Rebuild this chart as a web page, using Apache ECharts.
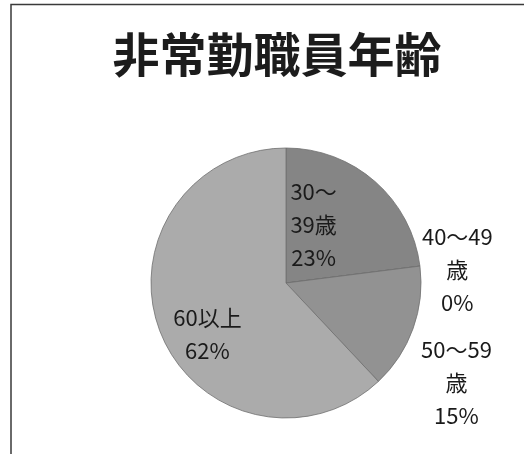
<!DOCTYPE html>
<html>
<head>
<meta charset="utf-8">
<script src="https://cdn.jsdelivr.net/npm/echarts@6/dist/echarts.min.js"></script>
<style>
  html, body { margin: 0; padding: 0; background: #ffffff; }
  #chart { width: 524px; height: 454px; }
</style>
</head>
<body>
<div id="chart"></div>
<script>
// ---- data ----
const titleText = '非常勤職員年齢';
const categories = ['30〜39歳', '40〜49歳', '50〜59歳', '60以上'];
const values = [23, 0, 15, 62];
// label wrapping as shown in the chart
const labelNames = [['30〜', '39歳'], ['40〜49', '歳'], ['50〜59', '歳'], ['60以上']];

// ---- styles ----
const sliceColors = ['#858585', '#8a8a8a', '#929292', '#ababab'];
const labelPos = ['inside', 'outside', 'outside', 'inside'];
const labelShift = [[-19, -5], [-3, 4], [3, 54], [-13, 25]];
const FONT = '"Noto Sans CJK JP", "Noto Sans", sans-serif';

const chart = echarts.init(document.getElementById('chart'), null, { renderer: 'canvas' });

const seriesData = categories.map((name, i) => ({
  name: name,
  value: values[i],
  itemStyle: { color: sliceColors[i] },
  label: { position: labelPos[i] }
}));

chart.setOption({
  animation: false,
  backgroundColor: '#ffffff',
  title: {
    text: titleText,
    left: 272,
    textAlign: 'center',
    top: 26,
    textStyle: {
      fontFamily: FONT,
      fontSize: 47,
      fontWeight: 'bold',
      color: '#1c1c1c'
    }
  },
  graphic: [
    {
      type: 'polyline',
      shape: { points: [[11, 454], [11, 4.5], [524, 4.5]] },
      style: { stroke: '#3a3a3a', lineWidth: 1.5, fill: null },
      silent: true
    }
  ],
  series: [{
    type: 'pie',
    center: [286, 283],
    radius: 135,
    startAngle: 90,
    clockwise: true,
    avoidLabelOverlap: false,
    data: seriesData,
    itemStyle: { borderColor: '#707070', borderWidth: 0.8 },
    labelLine: { show: false, length: 0, length2: 0 },
    label: {
      show: true,
      fontFamily: FONT,
      fontSize: 22,
      color: '#1a1a1a',
      formatter: function (p) {
        const lines = labelNames[p.dataIndex].concat([p.percent.toFixed(0) + '%']);
        return lines.map(s => '{t|' + s + '}').join('\n');
      },
      rich: {
        t: {
          fontFamily: FONT,
          fontSize: 22,
          lineHeight: 33,
          color: '#1a1a1a',
          align: 'center'
        }
      }
    },
    labelLayout: function (params) {
      const s = labelShift[params.dataIndex];
      return { dx: s[0], dy: s[1] };
    },
    emphasis: { disabled: true }
  }]
});
</script>
</body>
</html>
